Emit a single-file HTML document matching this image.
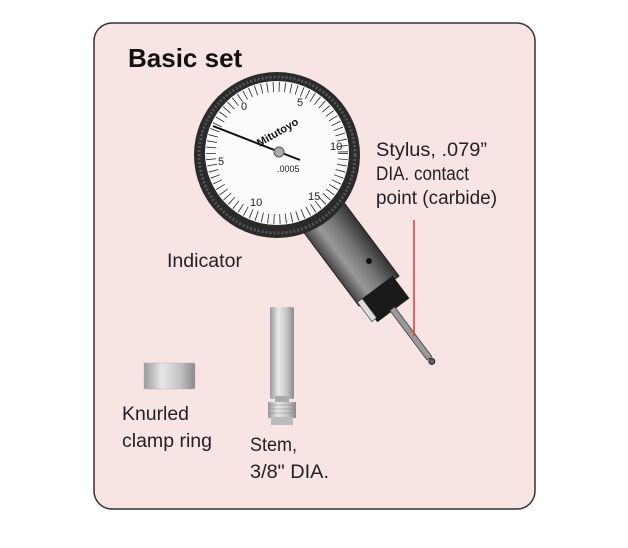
<!DOCTYPE html>
<html><head><meta charset="utf-8"><style>
html,body{margin:0;padding:0;background:#fff;width:628px;height:548px;overflow:hidden}
svg{display:block}
text{font-family:"Liberation Sans",sans-serif}
</style></head><body>
<svg width="628" height="548" viewBox="0 0 628 548" xmlns="http://www.w3.org/2000/svg">
<defs>
<linearGradient id="metal" x1="0" x2="1">
<stop offset="0" stop-color="#9a9a9a"/><stop offset="0.35" stop-color="#e8e8e8"/><stop offset="0.7" stop-color="#c4c4c4"/><stop offset="1" stop-color="#8a8a8a"/>
</linearGradient>
<linearGradient id="body" x1="0" x2="1" y1="0" y2="0">
<stop offset="0" stop-color="#444"/><stop offset="0.3" stop-color="#999"/><stop offset="0.6" stop-color="#777"/><stop offset="1" stop-color="#333"/>
</linearGradient>
</defs>
<rect x="94" y="23" width="441" height="486" rx="18" fill="#f9e4e4" stroke="#333" stroke-width="1.5"/>
<text x="128" y="67" font-size="26" font-weight="bold" fill="#111">Basic set</text>

<g transform="translate(277,155) rotate(-36.87)">
<rect x="-25" y="55" width="50" height="115" fill="url(#body)" stroke="#222"/>
<circle cx="10" cy="140" r="3" fill="#111"/>
<rect x="-20" y="166" width="40" height="28" fill="#1a1a1a"/>
<rect x="-24" y="166" width="6" height="24" fill="#ddd" stroke="#333" stroke-width="0.6"/>
<rect x="-3" y="192" width="6" height="62" fill="#999" stroke="#333" stroke-width="0.7"/>
<circle cx="0" cy="258" r="3" fill="#666" stroke="#222"/>
</g>
<circle cx="277" cy="155" r="83" fill="#2a2a2a"/>
<circle cx="277" cy="155" r="78" fill="none" stroke="#555" stroke-width="3" stroke-dasharray="2 2"/>
<circle cx="277" cy="153" r="72" fill="#fbfbfb"/>
<circle cx="277" cy="153" r="66" fill="none" stroke="#222" stroke-width="10" stroke-dasharray="0.8 5.1"/>
<circle cx="277" cy="153" r="60" fill="#fbfbfb"/>
<g font-size="11" fill="#222">
<text x="241" y="110">0</text><text x="297" y="106">5</text><text x="330" y="150">10</text>
<text x="218" y="165">5</text><text x="250" y="206">10</text><text x="308" y="200">15</text>
<text x="277" y="172" font-size="9">.0005</text>
</g>
<text x="255" y="140" font-size="11" font-weight="bold" fill="#111" transform="rotate(-30 270 135)">Mitutoyo</text>
<line x1="213" y1="126" x2="300" y2="160" stroke="#111" stroke-width="2"/>
<circle cx="279" cy="152" r="5" fill="#aaa" stroke="#555"/>
<rect x="270" y="307" width="24" height="92" fill="url(#metal)" rx="2"/>
<rect x="275" y="396" width="14" height="8" fill="#aaa"/>
<rect x="268" y="402" width="28" height="16" fill="url(#metal)"/>
<g stroke="#888" stroke-width="0.6"><line x1="268" y1="405" x2="296" y2="405"/><line x1="268" y1="409" x2="296" y2="409"/><line x1="268" y1="413" x2="296" y2="413"/></g>
<rect x="271" y="417" width="22" height="8" fill="#bbb"/>
<rect x="144" y="363" width="51" height="26" fill="url(#metal)" rx="2"/>
<rect x="144" y="363" width="51" height="26" fill="none" stroke="#aaa" stroke-width="1" stroke-dasharray="1 1.5"/>
<line x1="414" y1="220" x2="414" y2="336" stroke="#e23a3a" stroke-width="1.5"/>
<g font-size="19" fill="#222">
<text x="376" y="156" textLength="111" lengthAdjust="spacingAndGlyphs">Stylus, .079”</text>
<text x="376" y="180" textLength="93" lengthAdjust="spacingAndGlyphs">DIA. contact</text>
<text x="376" y="204" textLength="121" lengthAdjust="spacingAndGlyphs">point (carbide)</text>
<text x="167" y="267" textLength="75" lengthAdjust="spacingAndGlyphs">Indicator</text>
<text x="122" y="420" textLength="67" lengthAdjust="spacingAndGlyphs">Knurled</text>
<text x="122" y="447" textLength="90" lengthAdjust="spacingAndGlyphs">clamp ring</text>
<text x="250" y="451" textLength="47" lengthAdjust="spacingAndGlyphs">Stem,</text>
<text x="250" y="478" textLength="79" lengthAdjust="spacingAndGlyphs">3/8" DIA.</text>
</g>
</svg>
</body></html>
